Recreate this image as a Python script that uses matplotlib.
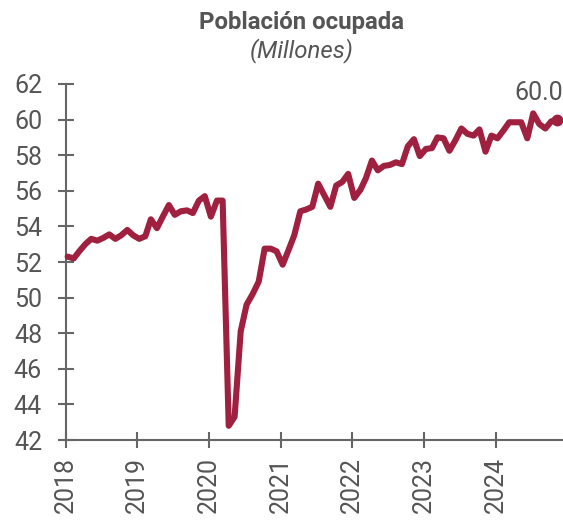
import matplotlib
matplotlib.use("Agg")
import matplotlib.pyplot as plt
import pandas as pd

plt.rcParams['font.family'] = ['Roboto', 'DejaVu Sans']

start_month = "2018-01-01"
values = [
    52.3, 52.2, 52.6, 53.0, 53.3, 53.2, 53.35, 53.55, 53.3, 53.5, 53.8, 53.5,   # 2018
    53.3, 53.45, 54.4, 53.9, 54.55, 55.2, 54.65, 54.85, 54.9, 54.75, 55.45, 55.7,  # 2019
    54.55, 55.45, 55.45, 42.8, 43.3, 48.1, 49.6, 50.2, 50.9, 52.75, 52.75, 52.6,  # 2020
    51.85, 52.7, 53.5, 54.85, 54.95, 55.1, 56.4, 55.75, 55.1, 56.3, 56.5, 56.95,  # 2021
    55.6, 56.05, 56.7, 57.7, 57.15, 57.4, 57.45, 57.6, 57.5, 58.5, 58.9, 57.95,   # 2022
    58.35, 58.4, 59.0, 58.95, 58.25, 58.85, 59.5, 59.2, 59.1, 59.45, 58.2, 59.1,  # 2023
    58.95, 59.4, 59.85, 59.85, 59.85, 58.95, 60.35, 59.75, 59.5, 59.9, 60.0,      # 2024
]
year_ticks = ["2018", "2019", "2020", "2021", "2022", "2023", "2024"]
y_ticks = [42, 44, 46, 48, 50, 52, 54, 56, 58, 60, 62]
title = "Población ocupada"
subtitle = "(Millones)"
end_label = "60.0"

dates = pd.date_range(start_month, periods=len(values), freq="MS") + pd.Timedelta(days=10)

line_color = "#A0213F"
text_color = "#555555"
axis_color = "#666666"

fig = plt.figure(figsize=(5.63, 5.23), dpi=100)
ax = fig.add_axes([65.7 / 563, (523 - 440) / 523, 1 - 65.7 / 563, (440 - 84) / 523])

ax.plot(dates, values, color=line_color, lw=4.4, solid_capstyle="round",
        solid_joinstyle="round", clip_on=False, zorder=3)
ax.plot(dates[-1:], values[-1:], "o", color=line_color, ms=7.5, clip_on=False, zorder=4)

ax.annotate(end_label, xy=(dates[-1], values[-1]), xytext=(4, 14),
            textcoords="offset points", ha="right", va="baseline",
            fontsize=18, color=text_color, annotation_clip=False)

ax.set_ylim(42, 62)
ax.set_yticks(y_ticks)
ax.set_xlim(pd.Timestamp("2018-01-01"), pd.Timestamp("2024-12-10"))
ax.set_xticks([pd.Timestamp(f"{y}-01-01") for y in year_ticks])
ax.set_xticklabels(year_ticks, rotation=90)

for s in ["top", "right"]:
    ax.spines[s].set_visible(False)
for s in ["left", "bottom"]:
    ax.spines[s].set_color(axis_color)
    ax.spines[s].set_linewidth(1.5)

ax.tick_params(axis="y", direction="inout", length=12, width=1.5, color=axis_color,
               labelsize=18, labelcolor=text_color, pad=11)
ax.tick_params(axis="x", direction="inout", length=12, width=1.5, color=axis_color,
               labelsize=18, labelcolor=text_color, pad=6)

fig.text(301.5 / 563, 1 - 22 / 523, title, ha="center", va="center",
         fontsize=17.3, fontweight="bold", color=text_color)
fig.text(301.5 / 563, 1 - 51 / 523, subtitle, ha="center", va="center",
         fontsize=17.3, fontstyle="italic", color=text_color)

fig.savefig("out.png", dpi=100)
